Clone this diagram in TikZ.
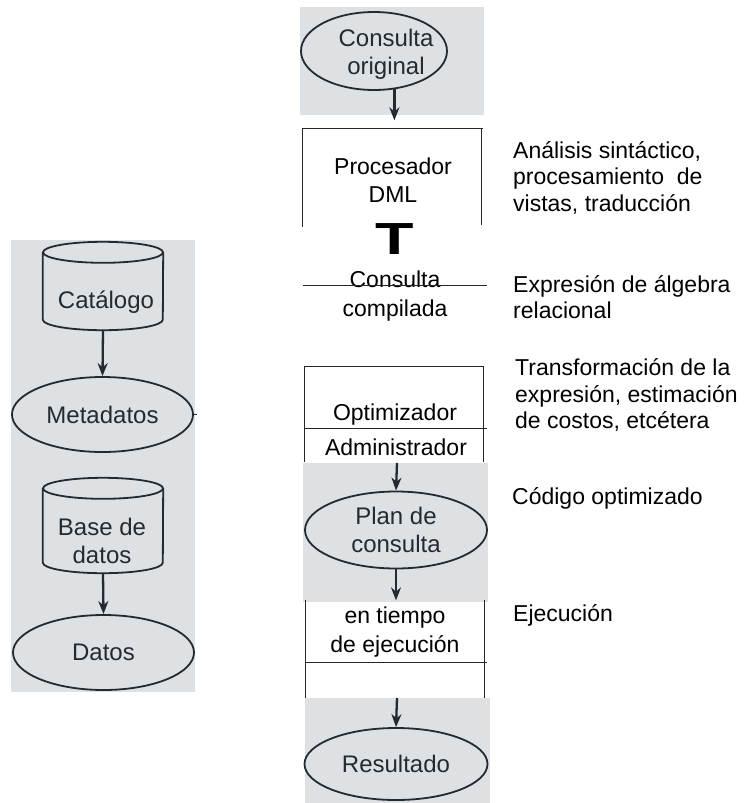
\documentclass[tikz,border=0pt]{standalone}
\usepackage{fontspec}
\usepackage{graphicx}
\setmainfont{Liberation Sans}
\usetikzlibrary{shapes.geometric,arrows.meta}
\definecolor{scanbg}{RGB}{222,225,228}
\definecolor{scanink}{RGB}{36,42,50}
\begin{document}
\begin{tikzpicture}[x=1pt,y=-1pt,
  scanpatch/.style={fill=scanbg,draw=none},
  scantext/.style={text=scanink,font=\fontsize{24}{28}\selectfont,align=center,inner sep=0pt},
  ell/.style={ellipse,draw=scanink,line width=1.8pt,inner sep=0pt,text=scanink,font=\fontsize{24}{28}\selectfont,align=center},
  cylbody/.style={rectangle,draw=none,minimum width=120pt,inner sep=0pt},
  cylline/.style={draw=scanink,line width=1.8pt},
  scanarrow/.style={draw=scanink,line width=2.3pt,-{Stealth[length=13pt,width=10pt]}},
  boxtext/.style={font=\fontsize{23}{28.5}\selectfont,align=center,inner sep=0pt},
  note/.style={font=\fontsize{23}{26.5}\selectfont,align=left,anchor=west,inner sep=0pt},
  boxline/.style={draw=black!85,line width=1pt},
]
\useasboundingbox (0,0) rectangle (745,803);

% scanned background patches
\fill[scanpatch] (11,240) rectangle (195,692);
\fill[scanpatch] (300,7) rectangle (484,115);
\fill[scanpatch] (303,463) rectangle (488,602);
\fill[scanpatch] (305,698) rectangle (490,803);

% left column
\node[cylbody, minimum height=88pt] (cat) at (103,286) {};
\draw[cylline] ([yshift=-10.5pt]cat.north) ellipse [x radius=60pt, y radius=10.5pt];
\draw[cylline] ([yshift=-10.5pt]cat.north west) -- ([yshift=10.5pt]cat.south west)
  arc[start angle=180, end angle=360, x radius=60pt, y radius=10.5pt] -- ([yshift=-10.5pt]cat.north east);
\node[scantext] (catt) at (106,302) {Catálogo};

\node[ell, minimum width=181pt, minimum height=75pt] (meta) at (102.5,414.5) {Metadatos};
\coordinate (metastub) at (197,414.5);
\draw[cylline] (meta.east) -- (metastub);

\node[cylbody, minimum height=95pt] (bdd) at (103,525.5) {};
\draw[cylline] ([yshift=-10.5pt]bdd.north) ellipse [x radius=60pt, y radius=10.5pt];
\draw[cylline] ([yshift=-10.5pt]bdd.north west) -- ([yshift=10.5pt]bdd.south west)
  arc[start angle=180, end angle=360, x radius=60pt, y radius=10.5pt] -- ([yshift=-10.5pt]bdd.north east);
\node[scantext] (bddt) at (102,541) {Base de\\datos};

\node[ell, minimum width=181pt, minimum height=75pt] (datos) at (103.5,652.5) {Datos};
\draw[scanarrow] (cat.south) -- (meta.north);
\draw[scanarrow] (bdd.south) -- (datos.north);

% middle column
\node[ell, minimum width=146pt, minimum height=78pt] (orig) at (374,51) {};
\node[scantext] (origt) at (386,54) {Consulta\\original};
\draw[scanarrow] (orig.-62) -- ++(0,31);

\node[boxtext] (dml) at (393,180) {Procesador\\DML};
\draw[boxline] (302,227) -- (302,128) -- (483,128);
\draw[boxline] (481,128) -- (481,225);

\node[inner sep=0pt, font=\bfseries\fontsize{45}{45}\selectfont] (tee) at (395,239) {\scalebox{1.4}[1]{T}};

\node[boxtext] (comp) at (395,296) {Consulta\\compilada};
\draw[boxline] (303,285) -- (487,285);

\node[boxtext] (opt) at (395,415) {Optimizador};
\node[boxtext] (adm) at (396,447) {Administrador};
\draw[boxline] (304,462) -- (304,366) -- (484,366);
\draw[boxline] (483,366) -- (483,462);
\draw[boxline] (304,428) -- (487,428);

\node[ell, minimum width=182pt, minimum height=77pt] (plan) at (396,530) {Plan de\\consulta};
\coordinate (admbot) at (397,463);
\draw[scanarrow] (admbot) -- (plan.north);
\draw[scanarrow] (plan.south) -- ++(0,31);

\node[boxtext] (ejec) at (395,632) {en tiempo\\de ejecución};
\draw[boxline] (305,600) -- (305,698);
\draw[boxline] (484,600) -- (484,698);
\draw[boxline] (305,662) -- (487,662);

\node[ell, minimum width=183pt, minimum height=72pt] (res) at (396,764) {Resultado};
\coordinate (ejecbot) at (397,698);
\draw[scanarrow] (ejecbot) -- (res.north);

% annotations
\node[note] (n1) at (513,178) {Análisis sintáctico,\\procesamiento\ \ de\\vistas, traducción};
\node[note] (n2) at (513,297) {Expresión de álgebra\\relacional};
\node[note] (n3) at (515,395) {Transformación de la\\expresión, estimación\\de costos, etcétera};
\node[note] (n4) at (512,498) {Código optimizado};
\node[note] (n5) at (513,615) {Ejecución};
\end{tikzpicture}
\end{document}
